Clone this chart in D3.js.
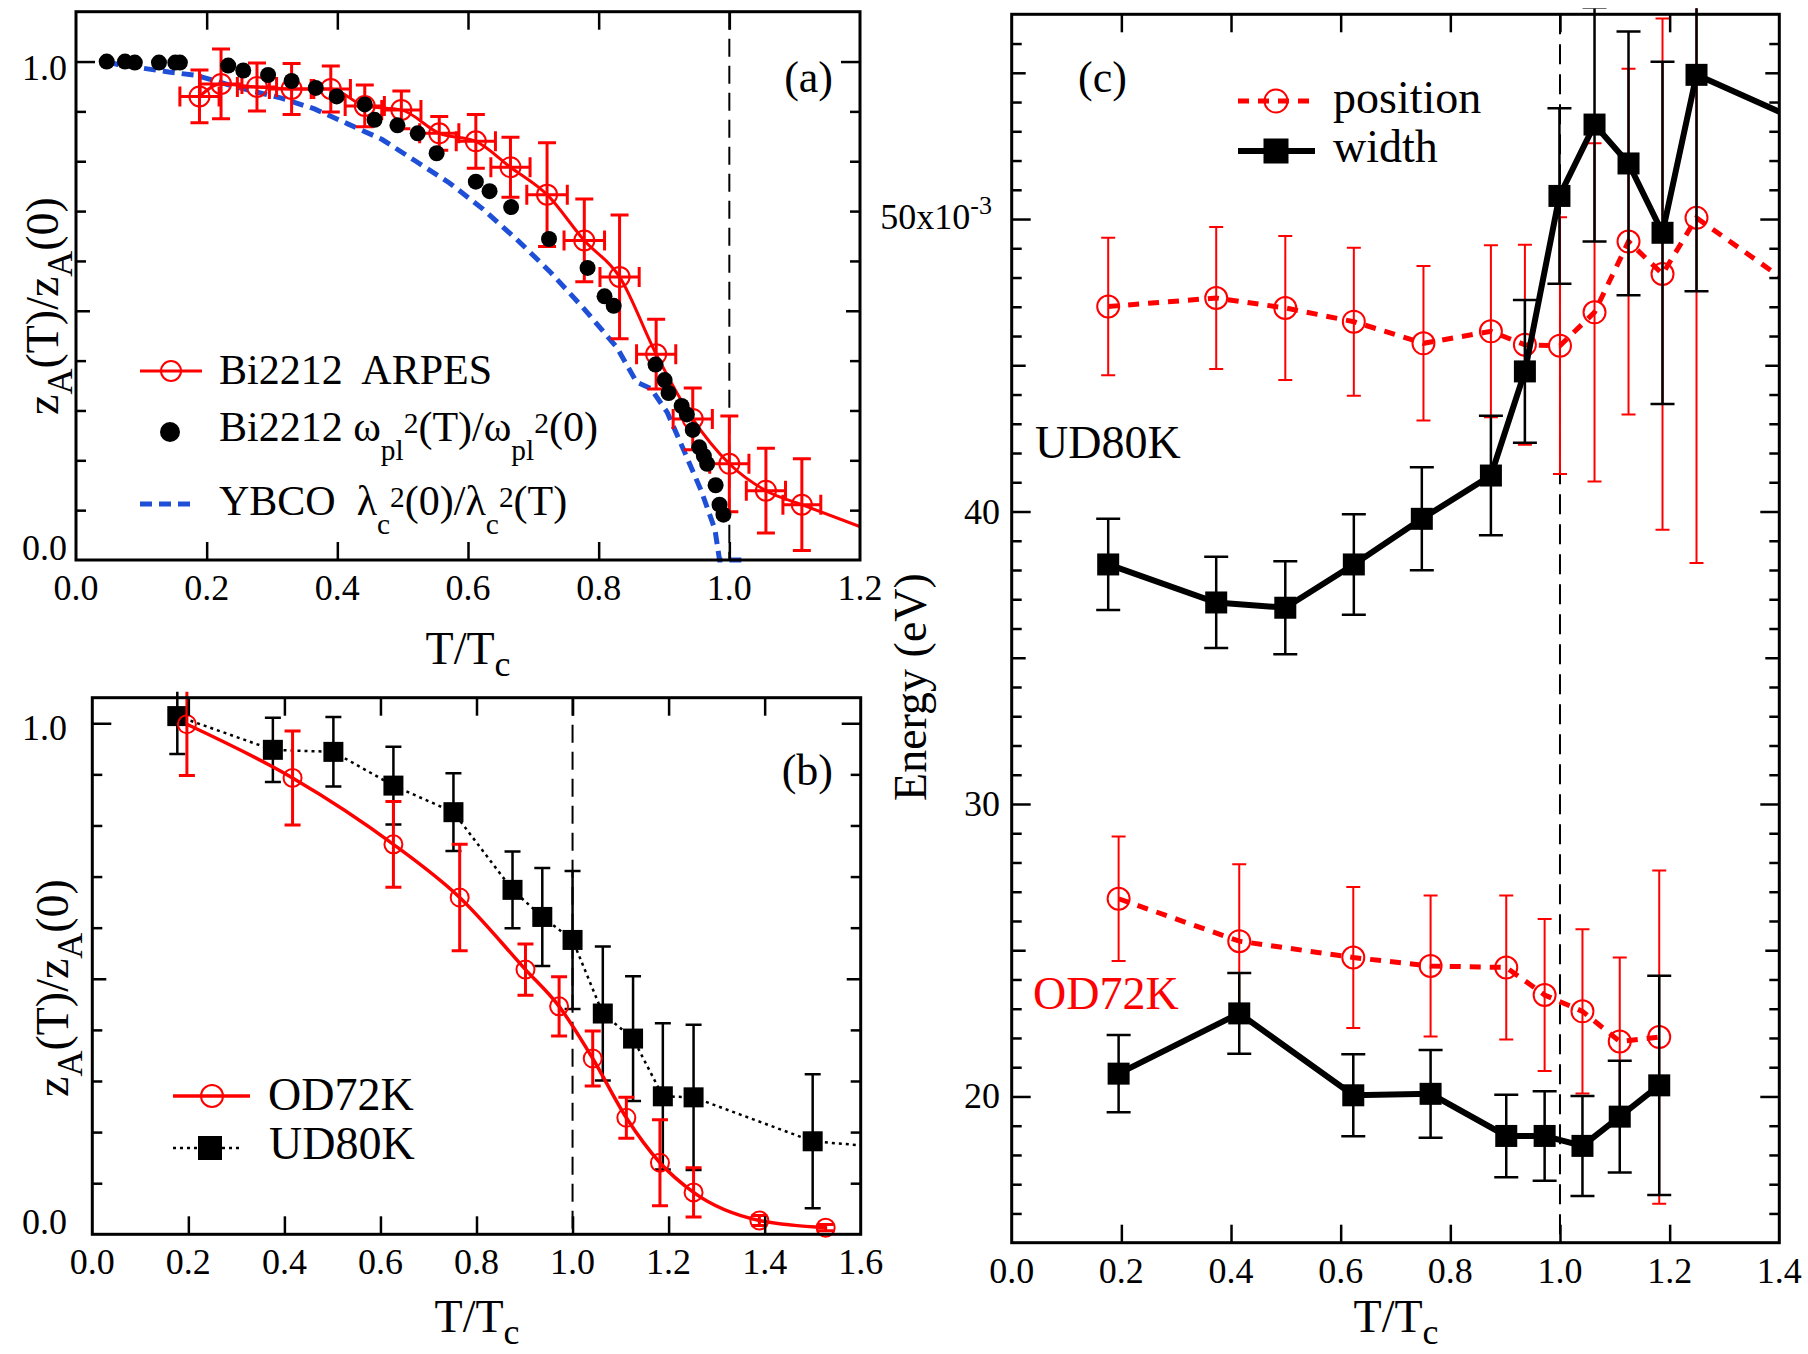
<!DOCTYPE html>
<html>
<head>
<meta charset="utf-8">
<script src="https://cdn.jsdelivr.net/npm/d3@7"></script>
<style>
  body { margin: 0; background: #fff; }
  svg { display: block; font-family: "Liberation Serif", "Times New Roman", Times, serif; }
</style>
</head>
<body>
<svg id="draw"></svg>
<script>
var width = 1808, height = 1354;

// ---- panel (a) ----
var plasmaT = [0.047,0.075,0.090,0.127,0.152,0.159,0.233,0.256,0.294,0.330,0.367,0.399,0.442,0.457,0.492,0.523,0.552,0.612,0.633,0.666,0.724,0.783,0.809,0.823,0.887,0.901,0.907,0.927,0.935,0.944,0.954,0.961,0.966,0.979,0.985,0.991];
var plasmaZ = [1.000,1.000,0.998,0.998,0.998,0.998,0.992,0.982,0.973,0.961,0.947,0.930,0.914,0.883,0.872,0.856,0.816,0.759,0.740,0.708,0.644,0.586,0.529,0.510,0.392,0.361,0.335,0.309,0.292,0.261,0.226,0.209,0.193,0.150,0.111,0.091];

var arpesT    = [0.189,0.222,0.277,0.330,0.390,0.442,0.498,0.556,0.612,0.665,0.721,0.778,0.832,0.888,0.944,1.000,1.056,1.111];
var arpesZ    = [0.930,0.955,0.949,0.945,0.945,0.911,0.903,0.856,0.840,0.788,0.733,0.641,0.568,0.413,0.283,0.193,0.139,0.111];
var arpesZErr = [0.053,0.070,0.048,0.051,0.046,0.042,0.038,0.034,0.054,0.060,0.104,0.083,0.124,0.070,0.062,0.096,0.085,0.092];
var arpesTErr = [0.030,0.032,0.030,0.034,0.030,0.030,0.030,0.030,0.030,0.030,0.031,0.031,0.030,0.030,0.030,0.030,0.030,0.029];
var arpesTailT = [1.2], arpesTailZ = [0.067];

var ybcoT = [0.047,0.064,0.142,0.185,0.245,0.313,0.365,0.416,0.468,0.519,0.571,0.622,0.674,0.725,0.777,0.828,0.858,0.880,0.905,0.931,0.957,0.978,0.985,1.020];
var ybcoZ = [1.000,0.994,0.979,0.972,0.949,0.927,0.905,0.875,0.844,0.801,0.757,0.705,0.644,0.579,0.505,0.426,0.357,0.344,0.296,0.218,0.139,0.061,0.000,0.000];

// ---- panel (b) ----
var odT   = [0.197,0.417,0.627,0.765,0.902,0.972,1.042,1.112,1.182,1.252,1.389,1.527];
var odZ   = [0.998,0.893,0.763,0.659,0.518,0.446,0.344,0.228,0.140,0.082,0.027,0.013];
var odErr = [0.100,0.092,0.084,0.104,0.050,0.058,0.054,0.040,0.084,0.048,0.010,0.006];

var udT   = [0.177,0.376,0.502,0.627,0.752,0.875,0.937,1.000,1.063,1.126,1.188,1.252,1.500];
var udZ   = [1.014,0.948,0.944,0.878,0.826,0.674,0.621,0.576,0.432,0.383,0.270,0.268,0.182];
var udErr = [0.074,0.063,0.068,0.076,0.076,0.075,0.096,0.135,0.131,0.122,0.143,0.142,0.131];
var udTailT = [1.6], udTailZ = [0.174];

// ---- panel (c), energies in eV (x10^-3) ----
var posUdT   = [0.176,0.373,0.499,0.624,0.751,0.874,0.936,1.000,1.063,1.125,1.187,1.249];
var posUdE   = [47.01,47.30,46.96,46.49,45.75,46.16,45.70,45.67,46.81,49.23,48.12,50.04];
var posUdErr = [2.35,2.43,2.46,2.53,2.64,2.94,3.42,4.39,5.78,5.91,8.74,11.8];
var posUdTailT = [1.4], posUdTailE = [48.04];

var widUdT   = [0.176,0.373,0.499,0.624,0.748,0.874,0.936,0.999,1.063,1.125,1.187,1.249];
var widUdE   = [38.19,36.89,36.71,38.19,39.75,41.23,44.79,50.79,53.23,51.90,49.53,54.93];
var widUdErr = [1.56,1.56,1.59,1.72,1.76,2.04,2.44,3.00,4.00,4.51,5.85,7.40];
var widUdTailT = [1.4], widUdTailE = [53.67];

var posOdT   = [0.195,0.415,0.623,0.764,0.902,0.972,1.041,1.109,1.181];
var posOdE   = [26.76,25.31,24.75,24.46,24.41,23.47,22.91,21.88,22.03];
var posOdErr = [2.13,2.63,2.41,2.41,2.46,2.60,2.81,2.87,5.70];

var widOdT   = [0.195,0.415,0.623,0.764,0.902,0.972,1.041,1.109,1.181];
var widOdE   = [20.78,22.84,20.04,20.09,18.65,18.65,18.31,19.31,20.38];
var widOdErr = [1.32,1.38,1.40,1.50,1.41,1.53,1.71,1.91,3.75];

// tick values
var xTicksA = [0.2,0.4,0.6,0.8,1.0], xLabA = [0,0.2,0.4,0.6,0.8,1.0,1.2];
var xTicksB = [0.2,0.4,0.6,0.8,1.0,1.2,1.4], xLabB = [0,0.2,0.4,0.6,0.8,1.0,1.2,1.4,1.6];
var xTicksC = [0.2,0.4,0.6,0.8,1.0,1.2], xLabC = [0,0.2,0.4,0.6,0.8,1.0,1.2,1.4];
var yTicksAB = [0.1,0.2,0.3,0.4,0.5,0.6,0.7,0.8,0.9,1.0];
var yLabAB = [0, 1];
var yTicksC = d3.range(16, 57);
var yLabC = [20, 30, 40, 50];

var red = "#ff0000", blue = "#1f4fd6", black = "#000";

var svg = d3.select("svg#draw").attr("width", width).attr("height", height);

function scales(box, xd, yd) {
  return {
    x: d3.scaleLinear().domain(xd).range([box.l, box.r]),
    y: d3.scaleLinear().domain(yd).range([box.b, box.t]),
    box: box
  };
}
var A = scales({l: 76, r: 860, t: 11.7, b: 560}, [0, 1.2], [0, 1.1]);
var B = scales({l: 92.3, r: 860.7, t: 697.7, b: 1234.3}, [0, 1.6], [0, 1.05]);
var C = scales({l: 1011.7, r: 1779.3, t: 14.3, b: 1242.7}, [0, 1.4], [15, 57]);

function zip(xs, ys, es) {
  return xs.map((t, i) => ({t: t, v: ys[i], e: es ? es[i] : 0}));
}

function clipFor(P, id) {
  var b = P.box;
  svg.append("clipPath").attr("id", id).append("rect")
    .attr("x", b.l - 60).attr("y", b.t - 6)
    .attr("width", b.r - b.l + 61).attr("height", b.b - b.t + 60);
  return svg.append("g").attr("clip-path", `url(#${id})`);
}

function vDash(g, P, t, dash) {
  g.append("line")
    .attr("x1", P.x(t)).attr("x2", P.x(t))
    .attr("y1", P.box.t).attr("y2", P.box.b)
    .attr("stroke", black).attr("stroke-width", 2).attr("stroke-dasharray", dash);
}

function drawLine(g, P, d, color, w, dash, curve) {
  g.append("path").datum(d)
    .attr("fill", "none").attr("stroke", color).attr("stroke-width", w)
    .attr("stroke-dasharray", dash || null)
    .attr("d", d3.line().x(p => P.x(p.t)).y(p => P.y(p.v)).curve(curve || d3.curveLinear));
}

function yErr(g, P, d, color, w, cap) {
  g.append("g").attr("stroke", color).attr("stroke-width", w).attr("fill", "none")
    .selectAll("path").data(d).join("path")
    .attr("d", p => {
      var x = P.x(p.t), y0 = P.y(p.v - p.e), y1 = P.y(p.v + p.e);
      return `M${x},${y0}V${y1}M${x - cap},${y0}H${x + cap}M${x - cap},${y1}H${x + cap}`;
    });
}

function xErr(g, P, d, color, w, cap) {
  g.append("g").attr("stroke", color).attr("stroke-width", w).attr("fill", "none")
    .selectAll("path").data(d).join("path")
    .attr("d", p => {
      var y = P.y(p.v), x0 = P.x(p.t - p.e), x1 = P.x(p.t + p.e);
      return `M${x0},${y}H${x1}M${x0},${y - cap}V${y + cap}M${x1},${y - cap}V${y + cap}`;
    });
}

function circles(g, P, d, r, color, fill, w) {
  g.append("g").selectAll("circle").data(d).join("circle")
    .attr("cx", p => P.x(p.t)).attr("cy", p => P.y(p.v)).attr("r", r)
    .attr("fill", fill).attr("stroke", color).attr("stroke-width", w);
}

function squares(g, P, d, s) {
  g.append("g").selectAll("rect").data(d).join("rect")
    .attr("x", p => P.x(p.t) - s / 2).attr("y", p => P.y(p.v) - s / 2)
    .attr("width", s).attr("height", s).attr("fill", black);
}

function axes(P, xTicks, yTicks, yLen, xLen) {
  var b = P.box, g = svg.append("g");
  g.append("g").attr("transform", `translate(0,${b.b})`)
    .call(d3.axisBottom(P.x).tickValues(xTicks).tickSizeOuter(0).tickFormat(""))
    .call(s => s.selectAll(".tick line").attr("y2", -xLen));
  g.append("g").attr("transform", `translate(0,${b.t})`)
    .call(d3.axisTop(P.x).tickValues(xTicks).tickSizeOuter(0).tickFormat(""))
    .call(s => s.selectAll(".tick line").attr("y2", xLen));
  g.append("g").attr("transform", `translate(${b.l},0)`)
    .call(d3.axisLeft(P.y).tickValues(yTicks).tickSizeOuter(0).tickFormat(""))
    .call(s => s.selectAll(".tick line").attr("x2", d => yLen(d)));
  g.append("g").attr("transform", `translate(${b.r},0)`)
    .call(d3.axisRight(P.y).tickValues(yTicks).tickSizeOuter(0).tickFormat(""))
    .call(s => s.selectAll(".tick line").attr("x2", d => -yLen(d)));
  g.selectAll(".domain").remove();
  g.selectAll(".tick line").attr("stroke", black).attr("stroke-width", 2.5);
  svg.append("rect")
    .attr("x", b.l).attr("y", b.t).attr("width", b.r - b.l).attr("height", b.b - b.t)
    .attr("fill", "none").attr("stroke", black).attr("stroke-width", 3);
}

function xLabels(P, vals) {
  svg.append("g").selectAll("text").data(vals).join("text")
    .attr("x", d => P.x(d)).attr("y", P.box.b + 40)
    .attr("text-anchor", "middle").style("font-size", "36px")
    .text(d3.format(".1f"));
}

// rich text: parts = [text, shift (em, +down), scale]
function rich(parent, x, y, size, parts) {
  var t = parent.append("text").attr("x", x).attr("y", y)
    .style("font-size", size + "px").style("white-space", "pre");
  var cur = 0;
  parts.forEach(p => {
    var shift = p[1] || 0, k = p[2] || 1;
    t.append("tspan").attr("dy", (shift - cur) * size)
      .style("font-size", k * size + "px").text(p[0]);
    cur = shift;
  });
  return t;
}

var zLabel = [["z"], ["A", 0.3, 0.78], ["(T)/z"], ["A", 0.3, 0.78], ["(0)"]];
var tLabel = [["T/T"], ["c", 0.25, 0.78]];

function yTickLen(d) { return Math.abs(d - 1) < 1e-9 ? 19 : (Math.abs(d - 0.5) < 1e-9 ? 14 : 10); }

// =================== panel (a) ===================
var ga = svg.append("g");
vDash(ga, A, 1.0, "18,9");
drawLine(ga, A, zip(ybcoT, ybcoZ), blue, 5, "12,7");
drawLine(ga, A, zip(arpesT.concat(arpesTailT), arpesZ.concat(arpesTailZ)), red, 3, null, d3.curveMonotoneX);
var arpes = zip(arpesT, arpesZ, arpesZErr);
yErr(ga, A, arpes, red, 3, 9);
xErr(ga, A, arpesT.map((t, i) => ({t: t, v: arpesZ[i], e: arpesTErr[i]})), red, 3, 10);
circles(ga, A, arpes, 10, red, "none", 2);
circles(ga, A, zip(plasmaT, plasmaZ), 8, black, black, 0);

axes(A, xTicksA, yTicksAB, yTickLen, 18);
xLabels(A, xLabA);
svg.append("g").selectAll("text").data(yLabAB).join("text")
  .attr("x", 67).attr("y", d => A.y(d) + (d === 1 ? 18 : 0))
  .attr("text-anchor", "end").style("font-size", "36px").text(d3.format(".1f"));

rich(svg, 468, 664, 46, tLabel).attr("text-anchor", "middle");
rich(svg, 0, 0, 46, zLabel).attr("text-anchor", "middle")
  .attr("transform", "translate(58,306) rotate(-90)");
svg.append("text").attr("x", 833).attr("y", 92).attr("text-anchor", "end")
  .style("font-size", "44px").text("(a)");

// legend (a)
var la = svg.append("g");
la.append("line").attr("x1", 140).attr("x2", 202).attr("y1", 371).attr("y2", 371)
  .attr("stroke", red).attr("stroke-width", 3);
la.append("circle").attr("cx", 171).attr("cy", 371).attr("r", 10)
  .attr("fill", "none").attr("stroke", red).attr("stroke-width", 2);
rich(la, 219, 384, 42, [["Bi2212  ARPES"]]);
la.append("circle").attr("cx", 170).attr("cy", 432).attr("r", 10).attr("fill", black);
rich(la, 219, 441, 42, [["Bi2212 \u03c9"], ["pl", 0.45, 0.7], ["2", -0.2, 0.7], ["(T)/\u03c9"], ["pl", 0.45, 0.7], ["2", -0.2, 0.7], ["(0)"]]);
la.append("line").attr("x1", 140).attr("x2", 194).attr("y1", 504).attr("y2", 504)
  .attr("stroke", blue).attr("stroke-width", 5).attr("stroke-dasharray", "12,7");
rich(la, 219, 515, 42, [["YBCO  \u03bb"], ["c", 0.45, 0.7], ["2", -0.2, 0.7], ["(0)/\u03bb"], ["c", 0.45, 0.7], ["2", -0.2, 0.7], ["(T)"]]);

// =================== panel (b) ===================
var gb = clipFor(B, "clipB");
vDash(gb, B, 1.0, "18,9");
var ud = zip(udT, udZ, udErr);
drawLine(gb, B, zip(udT.concat(udTailT), udZ.concat(udTailZ)), black, 2.5, "3,4");
yErr(gb, B, ud, black, 2.5, 8);
squares(gb, B, ud, 20);
var od = zip(odT, odZ, odErr);
drawLine(gb, B, od, red, 3.5, null, d3.curveMonotoneX);
yErr(gb, B, od, red, 3, 8);
circles(gb, B, od, 9, red, "none", 2);

axes(B, xTicksB, yTicksAB, yTickLen, 18);
xLabels(B, xLabB);
svg.append("g").selectAll("text").data(yLabAB).join("text")
  .attr("x", 67).attr("y", d => B.y(d) + (d === 1 ? 17 : 0))
  .attr("text-anchor", "end").style("font-size", "36px").text(d3.format(".1f"));

rich(svg, 477, 1332, 46, tLabel).attr("text-anchor", "middle");
rich(svg, 0, 0, 46, zLabel).attr("text-anchor", "middle")
  .attr("transform", "translate(68,988) rotate(-90)");
svg.append("text").attr("x", 833).attr("y", 785).attr("text-anchor", "end")
  .style("font-size", "44px").text("(b)");

var lb = svg.append("g");
lb.append("line").attr("x1", 173).attr("x2", 250).attr("y1", 1096).attr("y2", 1096)
  .attr("stroke", red).attr("stroke-width", 3.5);
lb.append("circle").attr("cx", 212).attr("cy", 1096).attr("r", 11)
  .attr("fill", "none").attr("stroke", red).attr("stroke-width", 2);
rich(lb, 268, 1110, 46, [["OD72K"]]);
lb.append("line").attr("x1", 173).attr("x2", 242).attr("y1", 1148).attr("y2", 1148)
  .attr("stroke", black).attr("stroke-width", 2.5).attr("stroke-dasharray", "3,4");
lb.append("rect").attr("x", 198).attr("y", 1136).attr("width", 24).attr("height", 24).attr("fill", black);
rich(lb, 269, 1159, 46, [["UD80K"]]);

// =================== panel (c) ===================
var gc = clipFor(C, "clipC");
vDash(gc, C, 1.0, "20,10");
var posUd = zip(posUdT, posUdE, posUdErr), posOd = zip(posOdT, posOdE, posOdErr);
var widUd = zip(widUdT, widUdE, widUdErr), widOd = zip(widOdT, widOdE, widOdErr);
drawLine(gc, C, zip(posUdT.concat(posUdTailT), posUdE.concat(posUdTailE)), red, 5, "11,9");
drawLine(gc, C, posOd, red, 5, "11,9");
yErr(gc, C, posUd, red, 2, 7);
yErr(gc, C, posOd, red, 2, 7);
circles(gc, C, posUd, 11, red, "none", 2);
circles(gc, C, posOd, 11, red, "none", 2);
drawLine(gc, C, zip(widUdT.concat(widUdTailT), widUdE.concat(widUdTailE)), black, 6);
drawLine(gc, C, widOd, black, 6);
yErr(gc, C, widUd, black, 2.5, 12);
yErr(gc, C, widOd, black, 2.5, 12);
squares(gc, C, widUd, 22);
squares(gc, C, widOd, 22);

axes(C, xTicksC, yTicksC, d => d % 10 === 0 ? 19 : (d % 5 === 0 ? 14 : 10), 18);
xLabels(C, xLabC);
var ylc = svg.append("g").selectAll("text").data(yLabC).join("text")
  .attr("x", d => d === 50 ? 992 : 1000).attr("y", d => C.y(d) + (d === 50 ? 10 : 12))
  .attr("text-anchor", "end").style("font-size", "36px");
ylc.append("tspan").text(d => d === 50 ? "50x10" : d);
ylc.filter(d => d === 50).append("tspan").attr("dy", -15).style("font-size", "26px").text("-3");

rich(svg, 1396, 1332, 46, tLabel).attr("text-anchor", "middle");
svg.append("text").attr("text-anchor", "middle").style("font-size", "46px")
  .attr("transform", "translate(926,687) rotate(-90)").text("Energy (eV)");
svg.append("text").attr("x", 1078).attr("y", 92).style("font-size", "44px").text("(c)");
svg.append("text").attr("x", 1035).attr("y", 458).style("font-size", "46px").text("UD80K");
svg.append("text").attr("x", 1033).attr("y", 1009).attr("fill", red).style("font-size", "46px").text("OD72K");

var lc = svg.append("g");
lc.append("line").attr("x1", 1238).attr("x2", 1312).attr("y1", 101).attr("y2", 101)
  .attr("stroke", red).attr("stroke-width", 5).attr("stroke-dasharray", "11,9");
lc.append("circle").attr("cx", 1276).attr("cy", 101).attr("r", 11.5)
  .attr("fill", "none").attr("stroke", red).attr("stroke-width", 2);
rich(lc, 1333, 113, 46, [["position"]]);
lc.append("line").attr("x1", 1238).attr("x2", 1315).attr("y1", 151).attr("y2", 151)
  .attr("stroke", black).attr("stroke-width", 6);
lc.append("rect").attr("x", 1263.5).attr("y", 138.5).attr("width", 25).attr("height", 25).attr("fill", black);
rich(lc, 1333, 162, 46, [["width"]]);
</script>
</body>
</html>
